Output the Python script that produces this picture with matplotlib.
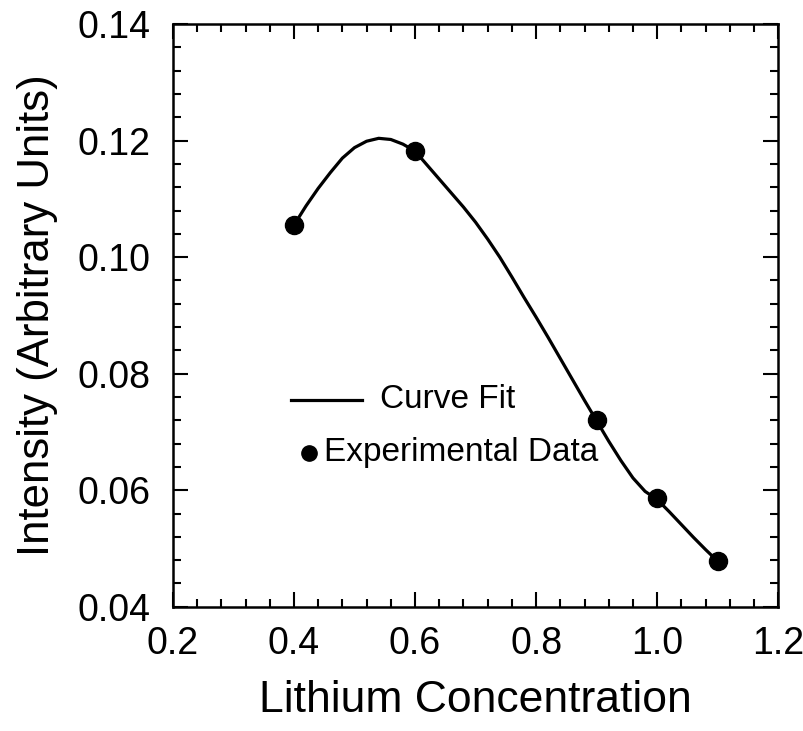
import numpy as np
import matplotlib
matplotlib.use("Agg")
import matplotlib.pyplot as plt
from matplotlib.ticker import MultipleLocator, FormatStrFormatter

plt.rcParams['font.family'] = ['Liberation Sans', 'DejaVu Sans']

# experimental points
conc = [0.4, 0.6, 0.9, 1.0, 1.1]
intensity = [0.1055, 0.1183, 0.0721, 0.0586, 0.0479]

# curve fit
fit_x = [0.40, 0.42, 0.44, 0.46, 0.48, 0.50, 0.52, 0.54, 0.56, 0.58, 0.60,
         0.62, 0.64, 0.66, 0.68, 0.70, 0.72, 0.74, 0.76, 0.78, 0.80, 0.82,
         0.84, 0.86, 0.88, 0.90, 0.92, 0.94, 0.96, 0.98, 1.00, 1.02, 1.04,
         1.06, 1.08, 1.10]
fit_y = [0.1055, 0.1088, 0.1118, 0.1145, 0.1170, 0.1188, 0.1199, 0.1204,
         0.1202, 0.1194, 0.1182, 0.1158, 0.1134, 0.1110, 0.1086, 0.1060,
         0.1031, 0.1000, 0.0966, 0.0931, 0.0897, 0.0862, 0.0826, 0.0790,
         0.0754, 0.0719, 0.0684, 0.0651, 0.0621, 0.0598, 0.0584, 0.0563,
         0.0541, 0.0519, 0.0498, 0.0478]

fig = plt.figure(figsize=(8.04, 7.31), dpi=100)
ax = fig.add_axes([0.215, 0.170, 0.753, 0.797])

ax.plot(fit_x, fit_y, color='black', lw=2.3)
ax.plot(conc, intensity, 'o', color='black', ms=13)

ax.set_xlim(0.2, 1.2)
ax.set_ylim(0.04, 0.14)
ax.xaxis.set_major_locator(MultipleLocator(0.2))
ax.xaxis.set_minor_locator(MultipleLocator(0.04))
ax.yaxis.set_major_locator(MultipleLocator(0.02))
ax.yaxis.set_minor_locator(MultipleLocator(0.004))
ax.xaxis.set_major_formatter(FormatStrFormatter('%.1f'))
ax.yaxis.set_major_formatter(FormatStrFormatter('%.2f'))
ax.tick_params(which='both', direction='in', top=True, right=True, width=1.5)
ax.tick_params(which='major', length=11, labelsize=27)
ax.tick_params(axis='y', which='major', pad=16)
ax.tick_params(axis='x', which='major', pad=14)
ax.tick_params(which='minor', length=6)
for s in ax.spines.values():
    s.set_linewidth(1.8)

ax.set_xlabel('Lithium Concentration', fontsize=32)
ax.set_ylabel('Intensity (Arbitrary Units)', fontsize=31.5)
ax.xaxis.set_label_coords(0.5, -0.125)
ax.yaxis.set_label_coords(-0.19, 0.5)

# hand-made legend
ax.plot([0.195, 0.312], [0.355, 0.355], color='black', lw=2.3, transform=ax.transAxes)
ax.text(0.342, 0.355, 'Curve Fit', fontsize=24, va='center', transform=ax.transAxes)
ax.plot([0.225], [0.264], 'o', color='black', ms=11, transform=ax.transAxes)
ax.text(0.250, 0.264, 'Experimental Data', fontsize=24, va='center', transform=ax.transAxes)

fig.savefig('out.png', dpi=100)
